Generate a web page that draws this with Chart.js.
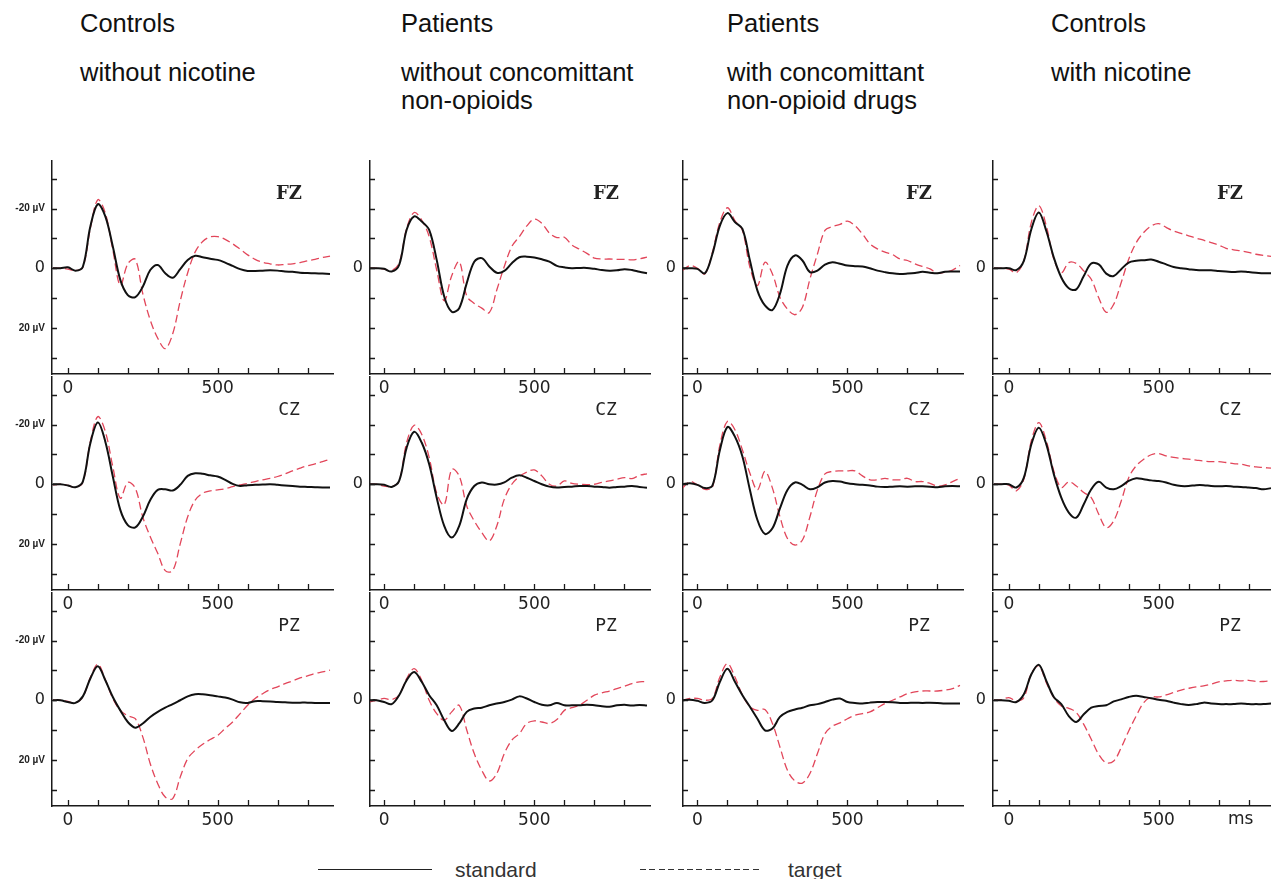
<!DOCTYPE html>
<html>
<head>
<meta charset="utf-8">
<title>ERP waveforms</title>
<script src="https://cdn.jsdelivr.net/npm/chart.js@4.4.1/dist/chart.umd.min.js"></script>
<style>
    html, body { margin: 0; padding: 0; background: #fff; }
    body { width: 1271px; height: 879px; position: relative; overflow: hidden; font-family: "Liberation Sans", Arial, sans-serif; color: #111; }
    canvas { position: absolute; }
    .title { position: absolute; font-size: 25.5px; line-height: 25.5px; white-space: nowrap; }
    .legend-text { position: absolute; font-size: 21px; line-height: 21px; color: #333; white-space: nowrap; }
    .legend-line { position: absolute; height: 1px; }
    .unit { position: absolute; font-family: "DejaVu Sans", sans-serif; font-size: 17px; line-height: 17px; color: #222; }
</style>
</head>
<body>
<script>
// time axis of every trace (ms)
const times = [-50, -25, 0, 25, 50, 75, 100, 125, 150, 175, 200, 225, 250, 275, 300, 325, 350, 375,
    400, 425, 450, 475, 500, 525, 550, 575, 600, 625, 650, 675, 700, 725, 750, 775, 800, 825, 850, 875];

const groupTitles = [
    ["Controls", "without nicotine"],
    ["Patients", "without concomittant", "non-opioids"],
    ["Patients", "with concomittant", "non-opioid drugs"],
    ["Controls", "with nicotine"]
];
const electrodes = ["FZ", "CZ", "PZ"];

const xTickValues = [0, 100, 200, 300, 400, 500, 600, 700, 800];
const xTickLabels = ["0", "", "", "", "", "500", "", "", ""];
const yTickValues = [-30, -20, -10, 0, 10, 20, 30];
const yTickLabelsFirst = ["", "-20 µV", "", "0", "", "20 µV", ""];
const yTickLabelsOther = ["", "", "", "0", "", "", ""];

// amplitudes in µV (negative up), one value per entry of times
// controls without nicotine
const ctrlFzStd = [0, 0, -0.3, 0.8, -0.5, -14, -21.5, -17.4, -7.3, 3.9, 9, 9.7, 6.2, 0.6, -1.1, 1.7, 3.2, 0.3, -2.8, -4.2, -3.7, -3.2, -2.8, -1.9, -0.8, 0.3, 0.9, 0.9, 0.8, 0.7, 0.8, 1.1, 1.2, 1.5, 1.6, 1.7, 1.8, 1.9];
const ctrlFzTgt = [0, 0, 0.3, 0.8, -0.3, -13.4, -23, -18.5, -6.2, 5.8, -1.5, -3, 8.5, 17.4, 23.5, 27, 22, 11, 1.5, -5.5, -9, -10.5, -10.6, -9.7, -8.2, -6.4, -4.5, -3.0, -2.0, -1.5, -1.1, -1.3, -1.5, -1.9, -2.5, -3.0, -3.6, -4.1];
const ctrlCzStd = [0, 0, 0.4, 1.0, -0.9, -13.8, -20.7, -14.3, -2.6, 8.6, 13.7, 14.5, 10.9, 5.3, 1.9, 1.7, 2.1, 0.2, -2.8, -3.7, -3.5, -3.0, -2.6, -1.5, -0.1, 0.6, 0.3, 0.2, 0.1, 0, 0.2, 0.4, 0.6, 0.8, 0.9, 1.0, 1.1, 1.1];
const ctrlCzTgt = [0.2, 0, 0.4, 1.0, -0.6, -14.3, -22.7, -17.7, -5.9, 4.7, -0.6, 1.3, 11, 17.6, 23.2, 29, 29, 20, 10.9, 5.3, 3, 2.2, 1.9, 1.5, 0.8, 0.2, -0.3, -0.9, -1.5, -2.0, -2.6, -3.5, -4.5, -5.4, -6.2, -6.8, -7.6, -8.4];
const ctrlPzStd = [0, 0, 0.6, 0.9, -1.3, -7.3, -11.4, -6.7, -1.1, 3.4, 7.3, 9.2, 7.8, 5.6, 3.9, 2.5, 1.3, 0, -1.3, -2.0, -2.0, -1.7, -1.3, -0.9, -0.2, 0.7, 0.9, 0.3, 0.3, 0.4, 0.6, 0.7, 0.8, 0.8, 0.8, 0.9, 0.9, 0.9];
const ctrlPzTgt = [0, 0, 0.4, 0.9, -1.1, -7.6, -12.1, -6.9, -0.6, 3.4, 5.2, 6.2, 12.3, 21.3, 28, 32.5, 33, 25.8, 19.6, 16.8, 14.8, 13.2, 11.8, 9.5, 7.3, 4.5, 1.7, -0.6, -2.2, -3.6, -4.5, -5.6, -6.5, -7.5, -8.2, -9.0, -9.5, -10.1];

// patients without concomittant non-opioids
const patFzStd = [0, 0, 0.2, 1.1, -1.1, -12.9, -17.4, -15.7, -12.9, -2.8, 9.5, 14.6, 13.4, 5, -2.2, -3.4, -0.6, 1.5, 0.9, -1.7, -3.7, -3.9, -3.6, -3.0, -2.2, -0.8, -0.3, 0, -0.1, -0.1, 0.2, 0.6, 0.8, 0.7, 0.3, 0.6, 1.2, 1.7];
const patFzTgt = [0, 0, 0.3, 0.8, -1.7, -13.4, -18.7, -16.2, -10.6, 0.6, 10.9, 2.5, -2.2, 9.3, 11.8, 13.4, 14.9, 7.3, -0.6, -7.3, -10.6, -14.2, -16.5, -15.1, -11.8, -10.3, -10.4, -7.8, -6.4, -5.0, -3.4, -3.1, -3.1, -3.0, -3.0, -2.8, -3.2, -3.7];
const patCzStd = [0, 0, 0.2, 0.9, -1.1, -12.3, -17.6, -14.0, -6.7, 4.5, 14, 17.9, 14, 5, 0.6, -0.6, 0, 0.1, -0.6, -2.2, -3.0, -2.2, -1.1, 0, 0.8, 1.1, 0.9, 0.8, 0.6, 0.6, 0.8, 0.9, 1.2, 0.9, 0.8, 0.6, 0.9, 1.2];
const patCzTgt = [0, 0, 0.6, 0.8, -1.1, -14.0, -19.8, -16.8, -9.0, 3, 6.9, -5, -2.8, 7.3, 12.3, 16.2, 19.0, 14.0, 5.0, 0, -2.6, -4.1, -4.8, -2.8, 0, 0.6, -1.1, -0.3, 0, 0.1, 0, -0.6, -1.1, -1.7, -2.2, -1.9, -3.0, -3.5];
const patPzStd = [0, 0, 0.6, 1.3, -1.7, -6.7, -9.5, -6.2, -1.7, 1.7, 6.7, 10.3, 7.8, 3.9, 2.8, 2.5, 1.7, 1.1, 0.6, -0.2, -1.3, -0.6, 0.6, 1.5, 1.7, 0.9, 1.7, 1.7, 1.7, 1.5, 1.7, 2.0, 2.2, 1.7, 1.5, 1.8, 1.6, 1.8];
const patPzTgt = [0.6, 0, -0.6, -0.2, -1.7, -7.3, -10.6, -6.7, 0, 4.5, 6.7, 3.9, 1.7, 10, 17.9, 23.5, 27.1, 24.6, 17.9, 13.4, 11.2, 7.8, 6.9, 7.3, 7.8, 6.5, 3.4, 2.5, 1.7, 0, -1.7, -2.5, -3.1, -3.9, -4.7, -5.6, -6.2, -6.2];

// patients with concomittant non-opioid drugs
const drugFzStd = [0, 0, 0.2, 1.7, -4.8, -14.3, -18.5, -15.5, -13.2, -2.6, 7.5, 12.5, 14.0, 8.6, -0.9, -4.3, -2.6, 1.3, 0.8, -1.2, -2.0, -1.5, -0.9, -0.7, -0.6, 0, 0.8, 1.3, 1.7, 1.9, 1.8, 1.6, 1.2, 1.5, 1.7, 1.2, 1.1, 1.1];
const drugFzTgt = [0.8, -0.9, 0, 1.9, -5.4, -15.5, -20.3, -16.0, -12.7, -0.3, 5.8, -2.0, 1.9, 9.7, 13.7, 15.6, 13.1, 3.6, -4.8, -12.7, -14.0, -14.7, -15.8, -14.3, -11.5, -8.2, -6.5, -5.4, -4.6, -3.1, -2.6, -1.5, -0.6, 0.2, 1.7, 1.3, 0.6, -0.9];
const drugCzStd = [0, -0.3, 0.2, 1.3, 0.5, -11.5, -19.2, -16, -9.3, 1.9, 12, 16.7, 14.8, 8.1, 1.9, -0.6, 0.2, 1.7, 1.0, -0.6, -1.1, -0.9, -0.3, 0, 0.2, 0.4, 0.8, 0.9, 0.8, 0.7, 0.8, 0.7, 0.7, 0.8, 1.0, 0.7, 0.6, 0.7];
const drugCzTgt = [1.3, -0.9, 0.2, 1.7, 1.0, -13.2, -21.1, -18.3, -11.5, -3.7, 1.9, -4.3, 1.3, 10.9, 18.2, 20.4, 18.7, 10.9, 1.9, -3.5, -4.3, -4.5, -4.5, -4.5, -2.8, -1.5, -1.5, -2.0, -1.5, -1.5, -2.0, -0.9, -0.9, -0.3, 0.6, 0.2, -0.9, -2.0];
const drugPzStd = [0, -0.2, 0.2, 0.9, 0, -6.2, -10.6, -6.2, -1.7, 2.2, 6.2, 10.1, 9.5, 5.6, 3.9, 3.1, 2.5, 1.7, 1.3, 0.6, -0.2, -0.6, 0.6, 0.9, 1.1, 0.8, 0.6, 0.6, 0.7, 0.9, 0.9, 0.8, 0.9, 0.8, 0.9, 1.1, 1.1, 1.1];
const drugPzTgt = [0, -0.6, -0.6, 0, -0.6, -7.8, -12.3, -7.8, -1.7, 2.2, 3.4, 3.1, 7.8, 15.7, 23.5, 27.1, 27.8, 24.6, 17.9, 11.2, 8.7, 7.6, 6.2, 5.0, 4.5, 3.9, 2.5, 1.1, 0, -1.1, -2.2, -2.8, -3.1, -3.1, -3.1, -3.4, -3.9, -5.0];

// controls with nicotine
const nicFzStd = [0, 0, 0, 0.6, -2.5, -13.1, -18.7, -12.5, -3.6, 3.1, 6.7, 7.1, 2.6, -1.6, -1.3, 1.8, 2.6, 0.3, -1.9, -2.5, -2.7, -2.9, -2.2, -1.3, -0.4, 0, 0.3, 0.6, 0.7, 0.7, 0.9, 1.1, 1.3, 1.1, 1.3, 1.5, 1.7, 1.7];
const nicFzTgt = [0, 0, 0.3, 1.5, -2.5, -15.4, -21, -14.2, -3.0, 1.5, -1.9, -1.6, 0.9, 3.7, 9.9, 14.8, 12.1, 4.8, -3.0, -8.6, -12.0, -14.2, -15.0, -13.7, -12.5, -11.7, -10.9, -10.1, -9.4, -8.6, -7.8, -6.7, -6.2, -5.8, -5.3, -4.7, -4.3, -4.0];
const nicCzStd = [0, 0, 0, 1.1, -2.2, -13.4, -19, -13.4, -3.4, 4.5, 9.5, 11.2, 6.7, 1.7, -0.8, 1.1, 1.7, 0.6, -1.1, -2.0, -1.7, -1.3, -1.1, -0.6, 0.2, 0.6, 0.6, 0.3, 0.3, 0.6, 0.7, 0.6, 0.8, 0.9, 1.1, 1.3, 1.7, 1.3];
const nicCzTgt = [0, 0, 0.3, 2.2, -1.7, -14.6, -20.7, -14.6, -4.5, 1.1, -0.8, 0.6, 2.8, 4.5, 10.1, 14.6, 12.3, 5.6, -2.2, -6.2, -8.4, -9.9, -10.3, -9.5, -9.0, -8.7, -8.4, -8.1, -7.8, -7.6, -7.6, -7.3, -6.9, -6.7, -6.2, -5.8, -5.6, -5.4];
const nicPzStd = [0, 0, 0.2, 0.6, -2.0, -8.7, -11.9, -6.5, -1.1, 1.3, 5.3, 7.3, 4.7, 2.5, 1.9, 1.7, 0.4, -0.3, -1.1, -1.5, -1.1, -0.7, -0.2, 0.2, 0.8, 1.3, 1.6, 1.3, 0.8, 1.1, 1.3, 1.3, 1.3, 1.1, 1.3, 1.3, 1.3, 1.1];
const nicPzTgt = [0, -0.2, -0.9, 0.2, -0.9, -9.0, -11.5, -5.9, -0.9, 1.9, 2.7, 4.1, 8.1, 13.1, 18.2, 21, 20.4, 15.9, 10.3, 5.3, 0.8, -1.1, -1.1, -1.8, -2.6, -3.4, -4.0, -4.5, -4.8, -5.4, -6.2, -6.5, -6.7, -6.5, -6.7, -6.3, -6.3, -6.5];

const standardTraces = [
    [ctrlFzStd, ctrlCzStd, ctrlPzStd],
    [patFzStd, patCzStd, patPzStd],
    [drugFzStd, drugCzStd, drugPzStd],
    [nicFzStd, nicCzStd, nicPzStd]
];
const targetTraces = [
    [ctrlFzTgt, ctrlCzTgt, ctrlPzTgt],
    [patFzTgt, patCzTgt, patPzTgt],
    [drugFzTgt, drugCzTgt, drugPzTgt],
    [nicFzTgt, nicCzTgt, nicPzTgt]
];

// page layout
const PX_PER_MS = 0.3;
const PX_PER_UV = 2.975;
const Y_TOP = -36;
const Y_BOTTOM = 35.5;
const X_END = 885;
const colAxisX = [52, 370, 683, 993];
const colStartMs = [-53, -47, -48, -53];
const rowZeroY = [268, 484, 700];
const PAD_L = 62, PAD_T = 14, PAD_R = 14, PAD_B = 34;

const AXIS_COLOR = "#1a1a1a";
const STD_COLOR = "#111";
const TGT_COLOR = "#e2465a";

const panelDecor = {
    id: "panelDecor",
    afterDraw(chart, args, opts) {
        const { ctx, chartArea: a, scales: { x, y } } = chart;
        ctx.save();
        ctx.strokeStyle = AXIS_COLOR;
        ctx.lineWidth = 1.3;
        ctx.beginPath();
        xTickValues.forEach(v => {
            const px = Math.round(x.getPixelForValue(v)) + 0.5;
            ctx.moveTo(px, a.bottom);
            ctx.lineTo(px, a.bottom - 6);
        });
        yTickValues.forEach(v => {
            const py = Math.round(y.getPixelForValue(v)) + 0.5;
            ctx.moveTo(a.left, py);
            ctx.lineTo(a.left + 5, py);
        });
        ctx.stroke();

        ctx.fillStyle = "#222";
        ctx.font = opts.font;
        ctx.textAlign = "center";
        ctx.textBaseline = "middle";
        ctx.fillText(opts.text, a.right - 44, y.getPixelForValue(0) - 74);
        ctx.restore();
    }
};

function makePanel(col, row) {
    const chartW = (X_END - colStartMs[col]) * PX_PER_MS;
    const chartH = (Y_BOTTOM - Y_TOP) * PX_PER_UV;
    const canvas = document.createElement("canvas");
    canvas.width = Math.round(PAD_L + chartW + PAD_R);
    canvas.height = Math.round(PAD_T + chartH + PAD_B);
    canvas.style.left = (colAxisX[col] - PAD_L) + "px";
    canvas.style.top = (rowZeroY[row] + Y_TOP * PX_PER_UV - PAD_T) + "px";
    document.body.appendChild(canvas);

    const std = standardTraces[col][row];
    const tgt = targetTraces[col][row];
    const yLabels = col === 0 ? yTickLabelsFirst : yTickLabelsOther;

    const chart = new Chart(canvas, {
        type: "line",
        data: {
            datasets: [{
                label: "standard",
                data: times.map((t, i) => ({ x: t, y: std[i] })),
                borderColor: STD_COLOR,
                borderWidth: 2,
                pointRadius: 0,
                tension: 0.35,
                fill: false
            }, {
                label: "target",
                data: times.map((t, i) => ({ x: t, y: tgt[i] })),
                borderColor: TGT_COLOR,
                borderWidth: 1.3,
                borderDash: [8, 4],
                pointRadius: 0,
                tension: 0.35,
                fill: false
            }]
        },
        options: {
            responsive: false,
            animation: false,
            devicePixelRatio: 1,
            events: [],
            layout: { padding: { left: 0, top: PAD_T, right: PAD_R, bottom: 0 } },
            plugins: {
                legend: { display: false },
                tooltip: { enabled: false },
                panelDecor: {
                    text: electrodes[row],
                    font: row === 0 ? "bold 18px 'DejaVu Serif'" : "18px 'DejaVu Sans Mono'"
                }
            },
            scales: {
                x: {
                    type: "linear",
                    min: colStartMs[col],
                    max: X_END,
                    afterBuildTicks: s => { s.ticks = xTickValues.map(v => ({ value: v })); },
                    afterFit: s => { s.height = PAD_B; },
                    grid: { display: false, drawTicks: false },
                    border: { display: true, color: AXIS_COLOR, width: 1.5 },
                    ticks: {
                        autoSkip: false,
                        maxRotation: 0,
                        padding: 4,
                        color: "#222",
                        font: { family: "DejaVu Sans", size: 17 },
                        callback: (v, i) => xTickLabels[i]
                    }
                },
                y: {
                    type: "linear",
                    reverse: true,
                    min: Y_TOP,
                    max: Y_BOTTOM,
                    afterBuildTicks: s => { s.ticks = yTickValues.map(v => ({ value: v })); },
                    afterFit: s => { s.width = PAD_L; },
                    grid: { display: false, drawTicks: false },
                    border: { display: true, color: AXIS_COLOR, width: 1.5 },
                    ticks: {
                        autoSkip: false,
                        padding: 7,
                        color: "#222",
                        font: c => (c.tick && c.tick.value === 0)
                            ? { family: "DejaVu Sans", size: 16 }
                            : { family: "Liberation Sans", size: 10, weight: "bold" },
                        callback: (v, i) => yLabels[i]
                    }
                }
            }
        },
        plugins: [panelDecor]
    });

    // line the plot area up with the page grid
    const a = chart.chartArea;
    canvas.style.left = (colAxisX[col] - a.left) + "px";
    canvas.style.top = (rowZeroY[row] - chart.scales.y.getPixelForValue(0)) + "px";
}

for (let col = 0; col < 4; col++) {
    for (let row = 0; row < 3; row++) {
        makePanel(col, row);
    }
}

// group titles
const titleLeft = [80, 401, 727, 1051];
const titleBaseline = [33, 82, 110];
groupTitles.forEach((lines, col) => {
    lines.forEach((text, i) => {
        const div = document.createElement("div");
        div.className = "title";
        div.textContent = text;
        div.style.left = titleLeft[col] + "px";
        div.style.top = (titleBaseline[i] - 21.6) + "px";
        document.body.appendChild(div);
    });
});

// unit of the last time axis
const ms = document.createElement("div");
ms.className = "unit";
ms.textContent = "ms";
ms.style.left = "1228px";
ms.style.top = "810px";
document.body.appendChild(ms);

// legend
function legendItem(lineLeft, lineWidth, dashed, text, textLeft) {
    const line = document.createElement("div");
    line.className = "legend-line";
    line.style.left = lineLeft + "px";
    line.style.top = "869px";
    line.style.width = lineWidth + "px";
    line.style.background = dashed
        ? "repeating-linear-gradient(to right, #333 0 6px, transparent 6px 9.4px)"
        : "#222";
    document.body.appendChild(line);
    const label = document.createElement("div");
    label.className = "legend-text";
    label.textContent = text;
    label.style.left = textLeft + "px";
    label.style.top = "859px";
    document.body.appendChild(label);
}
legendItem(318, 114, false, "standard", 455);
legendItem(640, 122, true, "target", 788);
</script>
</body>
</html>
